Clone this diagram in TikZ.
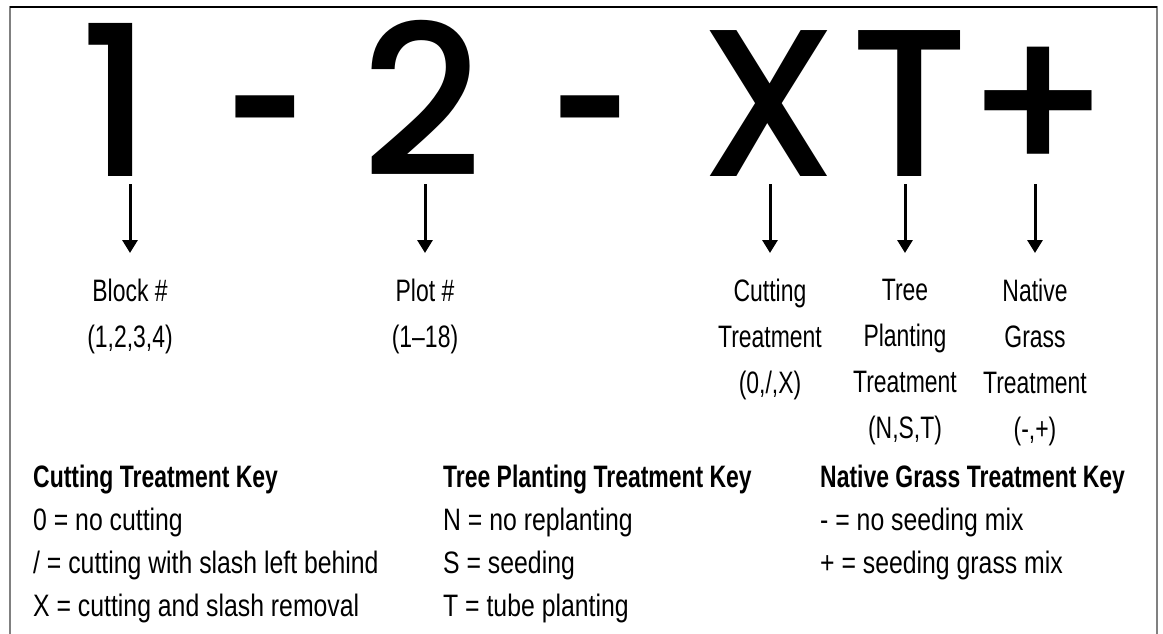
\documentclass[tikz,border=0pt]{standalone}
\usepackage{fontspec}
\usepackage{tikz}
\usetikzlibrary{
    arrows.meta,
    positioning
}
\newfontfamily\bigfont{Poppins Medium}
\newfontfamily\labelfont[FakeStretch=0.74]{Liberation Sans}
\newfontfamily\bodyfont[FakeStretch=0.8]{Liberation Sans}
\tikzset{
    bigchar/.style={font=\bigfont\fontsize{210}{210}\selectfont, inner sep=0pt, anchor=base},
    label/.style={font=\labelfont\fontsize{31}{46}\selectfont, align=center, inner sep=0pt, anchor=north},
    keybox/.style={font=\bodyfont\fontsize{31}{43}\selectfont, align=left, inner sep=0pt, anchor=north west},
    pointer/.style={line width=3pt, -{Triangle[width=15pt,length=13pt]}, shorten <=8pt, shorten >=26pt}
}
\newcommand{\keytitle}[1]{{\labelfont\bfseries #1}}

\begin{document}
\begin{tikzpicture}[x=1pt, y=-1pt]
                                \useasboundingbox (0, 0) rectangle (1163, 634);
                                \draw[gray, line width=1.2pt] (10, 634) -- (10, 7) -- (1157, 7) -- (1157, 634);
                                \draw[black, line width=1.5pt] (10, 7) -- (1157, 7);

                                % the code itself
                                \node[bigchar] (one) at (116, 176) {1};
                                \node[bigchar, xscale=0.68, yscale=1.1] (dashA) at (265, 190) {-};
                                \node[bigchar] (two) at (422, 176) {2};
                                \node[bigchar, xscale=0.68, yscale=1.1] (dashB) at (590, 190) {-};
                                \node[bigchar] (cutX) at (769, 176) {X};
                                \node[bigchar] (treeT) at (910, 176) {T};
                                \node[bigchar] (grassP) at (1038, 176) {+};

                                % what each part means
                                \node[label] (block) at (130, 279) {Block \#\\(1,2,3,4)};
                                \node[label] (plot) at (425, 279) {Plot \#\\(1–18)};
                                \node[label] (cutting) at (770, 279) {Cutting\\Treatment\\(0,/,X)};
                                \node[label] (tree) at (905, 279) {Tree\\Planting\\Treatment\\(N,S,T)};
                                \node[label] (grass) at (1035, 279) {Native\\Grass\\Treatment\\(-,+)};

                                \draw[pointer] (block.north |- one.south) -- (block.north);
                                \draw[pointer] (plot.north |- two.south) -- (plot.north);
                                \draw[pointer] (cutting.north |- cutX.south) -- (cutting.north);
                                \draw[pointer] (tree.north |- treeT.south) -- (tree.north);
                                \draw[pointer] (grass.north |- grassP.south) -- (grass.north);

                                % keys
                                \node[keybox] (cutkey) at (33, 465) {\keytitle{Cutting Treatment Key}\\0 = no cutting\\/ = cutting with slash left behind\\X = cutting and slash removal};
                                \node[keybox] (treekey) at (443, 465) {\keytitle{Tree Planting Treatment Key}\\N = no replanting\\S = seeding\\T = tube planting};
                                \node[keybox] (grasskey) at (820, 465) {\keytitle{Native Grass Treatment Key}\\- = no seeding mix\\+ = seeding grass mix};
                            \end{tikzpicture}
\end{document}
